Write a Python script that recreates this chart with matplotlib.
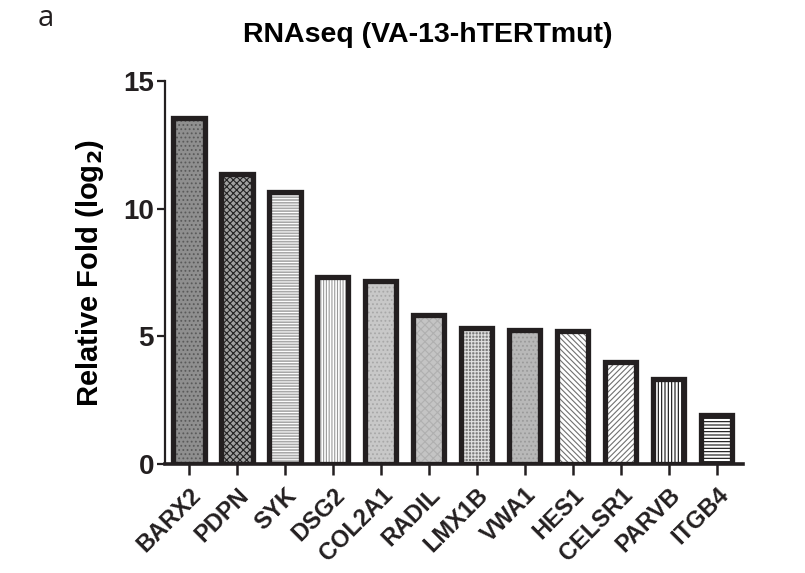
import matplotlib
matplotlib.use("Agg")
import matplotlib.pyplot as plt
import numpy as np

genes = ["BARX2", "PDPN", "SYK", "DSG2", "COL2A1", "RADIL", "LMX1B",
         "VWA1", "HES1", "CELSR1", "PARVB", "ITGB4"]
values = [13.55, 11.36, 10.67, 7.32, 7.17, 5.82, 5.33, 5.25, 5.21, 4.0, 3.33, 1.92]

# (facecolor, hatch, hatch colour)
styles = [
    ("#8f8f8f", "....", "#5a5a5a"),
    ("#a0a0a0", "xxxxx", "#222222"),
    ("#a8a8a8", "------", "#ffffff"),
    ("#ffffff", "||||||", "#9a9a9a"),
    ("#c8c8c8", "....", "#a8a8a8"),
    ("#c4c4c4", "xxxx", "#b0b0b0"),
    ("#7c7c7c", "+++++", "#e0e0e0"),
    ("#b8b8b8", "....", "#9a9a9a"),
    ("#ffffff", "\\\\\\\\\\\\", "#707070"),
    ("#ffffff", "//////", "#707070"),
    ("#ffffff", "|||||", "#111111"),
    ("#ffffff", "-----", "#111111"),
]

plt.rcParams["font.family"] = ["Liberation Sans", "DejaVu Sans"]
plt.rcParams["hatch.linewidth"] = 0.8

fig = plt.figure(figsize=(8.05, 5.73), dpi=100)
ax = fig.add_axes([165 / 805, 109 / 573, (743 - 165) / 805, (492 - 109) / 573])

x = np.arange(len(genes))
width = 0.65
for xi, v, (fc, h, hc) in zip(x, values, styles):
    ax.bar(xi, v, width=width, color=fc, hatch=h, edgecolor=hc, linewidth=0, zorder=2)
ax.bar(x, values, width=width, fill=False, edgecolor="#231f20", linewidth=3.8, zorder=3)

ax.set_xlim(-0.5, 11.55)
ax.set_ylim(0, 15)
ax.set_yticks([0, 5, 10, 15])
ax.set_yticklabels(["0", "5", "10", "15"], fontsize=20, fontweight="bold")
ax.set_xticks(x)
ax.set_xticklabels(genes, rotation=45, ha="right", rotation_mode="anchor",
                   fontsize=17, fontweight="bold")

for s in ["top", "right"]:
    ax.spines[s].set_visible(False)
ax.spines["left"].set_linewidth(1.6)
ax.spines["bottom"].set_linewidth(2.6)
ax.spines["left"].set_color("#231f20")
ax.spines["bottom"].set_color("#231f20")
ax.tick_params(axis="y", length=6, width=1.6, pad=2, colors="#231f20")
ax.tick_params(axis="x", length=8, width=1.8, pad=6, colors="#231f20")

ax.set_ylabel("Relative Fold (log$_\\mathbf{2}$)", fontsize=21, fontweight="bold", labelpad=12)

fig.text(428 / 805, 1 - 35 / 573, "RNAseq (VA-13-hTERTmut)", ha="center", va="center",
         fontsize=20.5, fontweight="bold", family=["Liberation Sans Narrow", "Liberation Sans"])
fig.text(38 / 805, 1 - 19 / 573, "a", ha="left", va="center", fontsize=21,
         family=["Open Sans", "DejaVu Sans"], color="#231f20")

fig.savefig("out.png", dpi=100)
